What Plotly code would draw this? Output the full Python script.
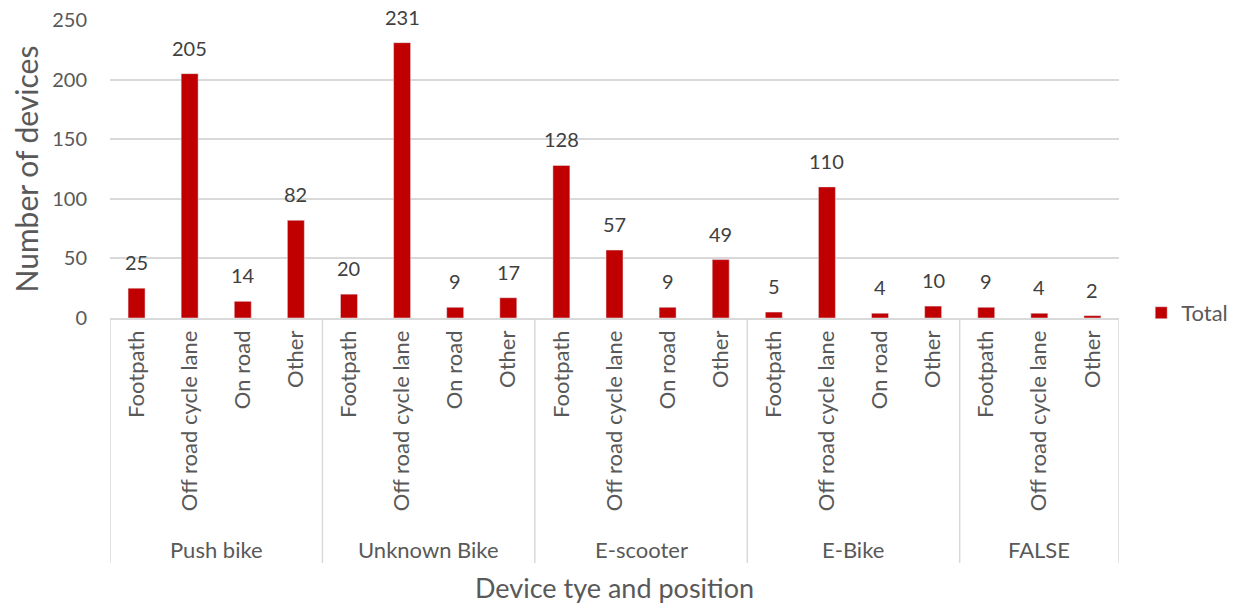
import plotly.graph_objects as go

GROUPS = ["Push bike", "Unknown Bike", "E-scooter", "E-Bike", "FALSE"]
POSITIONS = [
    ["Footpath", "Off road cycle lane", "On road", "Other"],
    ["Footpath", "Off road cycle lane", "On road", "Other"],
    ["Footpath", "Off road cycle lane", "On road", "Other"],
    ["Footpath", "Off road cycle lane", "On road", "Other"],
    ["Footpath", "Off road cycle lane", "Other"],
]
TOTALS = [
    [25, 205, 14, 82],
    [20, 231, 9, 17],
    [128, 57, 9, 49],
    [5, 110, 4, 10],
    [9, 4, 2],
]

_RED = "#c00000"
_GRID = "#d9d9d9"
_FONT = "Lato, 'Open Sans', sans-serif"

labels = [p for grp in POSITIONS for p in grp]
values = [v for grp in TOTALS for v in grp]
xs = list(range(len(values)))

fig = go.Figure()
fig.add_bar(
    x=xs, y=values, name="Total",
    marker_color=_RED, width=0.32,
)

# data labels above bars
for x, v in zip(xs, values):
    fig.add_annotation(
        x=x, y=v, text=str(v), showarrow=False,
        yanchor="bottom", yshift=12,
        font=dict(size=20, color="#404040", family=_FONT),
    )

# group separators and group names
start = -0.5
bounds = [start]
for grp_name, grp in zip(GROUPS, POSITIONS):
    end = start + len(grp)
    fig.add_annotation(
        x=(start + end) / 2, y=-0.778, xref="x", yref="paper",
        text=grp_name, showarrow=False, yanchor="middle",
        font=dict(size=22, color="#595959", family=_FONT),
    )
    bounds.append(end)
    start = end
for b in bounds:
    fig.add_shape(
        type="line", x0=b, x1=b, xref="x", y0=0, y1=-0.822, yref="paper",
        line=dict(color=_GRID, width=1.5),
    )

fig.add_annotation(
    x=0.5, y=-0.905, xref="paper", yref="paper",
    text="Device tye and position", showarrow=False, yanchor="middle",
    font=dict(size=27, color="#595959", family=_FONT),
)

# page body has an 8px margin, so the figure is sized to fit the window
fig.update_layout(
    width=1242, height=597,
    margin=dict(l=102, r=131, t=12, b=287),
    plot_bgcolor="white", paper_bgcolor="white",
    font=dict(family=_FONT, color="#595959"),
    showlegend=True,
    legend=dict(
        x=1.022, y=0.017, xanchor="left", yanchor="middle",
        font=dict(size=22, color="#595959"),
        itemwidth=30,
    ),
    xaxis=dict(
        range=[-0.5, len(values) - 0.5],
        tickvals=xs, ticktext=labels, tickangle=-90,
        tickfont=dict(size=22, color="#595959"),
        showgrid=False, zeroline=False,
        showline=True, linecolor=_GRID, linewidth=1.5,
        ticks="", ticklabelstandoff=2, automargin=False,
    ),
    yaxis=dict(
        range=[0, 250], dtick=50,
        showgrid=True, gridcolor=_GRID, gridwidth=1.5,
        zeroline=False, showline=False,
        tickfont=dict(size=20, color="#595959"),
        ticklabelstandoff=22, automargin=False, ticklabeloverflow="allow",
        title=dict(text="Number of devices", font=dict(size=30, color="#595959"), standoff=20),
    ),
)

fig.write_html("out.html")
